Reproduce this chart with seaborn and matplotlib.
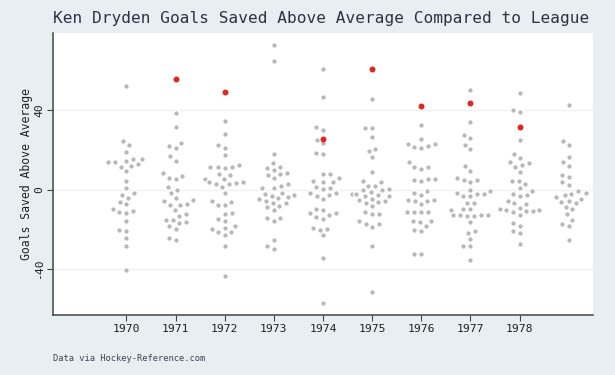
import pandas as pd
import matplotlib
matplotlib.use("Agg")
import matplotlib.pyplot as plt
import seaborn as sns

# Goals saved above average for every league goalie, per season
seasons = ['1970', '1971', '1972', '1973', '1974', '1975', '1976', '1977', '1978', '1979']
tick_labels = ['1970', '1971', '1972', '1973', '1974', '1975', '1976', '1977', '1978']

gsaa_1970 = [52.2, 24.3, 22.3, 19.1, 14.4, 15.4, 15.2, 13.7, 11.9, 13.6, 12.7, 11.4, 9.2, 4.5, 0.8,
             -3.0, -4.2, -2.0, -6.5, -7.5, -10.0, -11.0, -11.4, -11.9, -15.7, -20.8, -20.4, -24.3,
             -28.6, -40.5]
gsaa_1971 = [38.7, 31.3, 21.9, 23.3, 21.1, 16.6, 14.4, 8.2, 6.0, 5.4, 7.0, 1.5, -0.2, -1.7, -5.4,
             -7.7, -7.4, -4.2, -7.7, -6.0, -10.2, -12.2, -13.1, -15.1, -16.2, -16.7, -15.1, -18.2,
             -19.6, -24.3, -25.6]
gsaa_1972 = [34.6, 27.8, 21.1, 22.6, 17.2, 12.1, 10.9, 11.4, 11.4, 11.4, 7.2, 7.7, 5.2, 3.0, 1.5,
             3.8, 5.2, 3.2, 2.7, 3.8, -1.7, -5.7, -7.9, -7.9, -6.2, -11.9, -12.1, -14.6, -15.7,
             -18.4, -19.2, -21.4, -19.9, -21.4, -22.8, -28.5, -43.5]
gsaa_1973 = [72.5, 64.4, 17.7, 13.1, 11.5, 11.0, 9.7, 7.7, 7.5, 8.4, 5.9, 2.7, 2.0, 1.0, 1.0,
             -1.5, -3.0, -2.2, -3.7, -4.5, -5.7, -4.9, -7.0, -8.2, -6.7, -9.0, -10.5, -15.7,
             -14.2, -14.4, -25.3, -28.5, -30.0, -3.2]
gsaa_1974 = [60.4, 46.5, 30.1, 31.3, 24.9, 23.4, 17.7, 18.2, 7.7, 5.9, 8.0, 4.4, 3.8, 3.8, 0.7,
             1.5, 0.3, -1.8, -2.0, -2.7, -3.2, -4.7, -10.4, -11.9, -9.7, -11.9, -13.7, -12.7,
             -14.7, -20.1, -19.1, -19.7, -23.1, -34.3, -57.2]
gsaa_1975 = [45.5, 31.0, 31.0, 26.3, 20.6, 19.2, 16.2, 8.9, 4.2, 3.8, 0.3, 2.0, 1.7, -0.2, -3.5,
             -2.2, -2.7, -0.3, -3.3, -1.2, -2.5, -4.7, -6.4, -5.4, -6.0, -7.0, -8.4, -11.2,
             -12.2, -12.2, -15.6, -17.2, -17.2, -18.7, -28.5, -51.7]
gsaa_1976 = [32.5, 25.6, 23.1, 23.1, 21.4, 20.9, 21.8, 13.7, 11.2, 10.5, 11.4, 5.4, 4.9, 4.2, 5.2,
             -0.8, -2.8, -1.8, -5.4, -5.7, -5.4, -7.5, -5.7, -11.2, -11.2, -11.4, -11.2, -15.6,
             -16.1, -15.6, -20.3, -18.2, -20.8, -32.3, -32.5]
gsaa_1977 = [49.9, 33.8, 25.9, 27.6, 22.3, 20.3, 9.4, 11.7, 4.9, 3.8, 5.9, 4.7, -0.7, 0.0, -3.2,
             -2.3, -2.5, -3.5, -1.8, -6.9, -6.9, -9.9, -10.4, -9.9, -13.1, -12.7, -12.9, -13.2,
             -12.6, -12.7, -16.2, -20.9, -21.6, -24.8, -28.6, -28.3, -35.6]
gsaa_1978 = [48.5, 38.8, 40.0, 24.9, 17.9, 15.6, 11.4, 13.1, 12.4, 13.9, 8.7, 4.4, 4.2, 2.7, 0.7,
             -0.7, -2.8, -2.5, -3.2, -7.5, -5.7, -6.9, -11.5, -10.4, -11.0, -12.7, -11.0, -10.0,
             -10.4, -9.2, -18.2, -16.7, -21.9, -20.6, -27.3]
gsaa_1979 = [42.5, 24.6, 22.6, 16.4, 13.9, 11.9, 6.4, 7.4, 2.5, 3.7, -0.8, -2.0, -3.0, -2.5, -3.8,
             -4.7, -5.7, -6.2, -6.9, -8.7, -9.9, -12.4, -15.1, -17.1, -18.2, -25.6]

# Ken Dryden's own seasons
dryden_seasons = ['1971', '1972', '1974', '1975', '1976', '1977', '1978']
dryden_gsaa = [55.4, 48.9, 25.3, 60.4, 42.0, 43.3, 31.5]

league = pd.concat([
    pd.DataFrame({'season': s, 'gsaa': v})
    for s, v in zip(seasons, [gsaa_1970, gsaa_1971, gsaa_1972, gsaa_1973, gsaa_1974,
                              gsaa_1975, gsaa_1976, gsaa_1977, gsaa_1978, gsaa_1979])
])
dryden = pd.DataFrame({'season': dryden_seasons, 'gsaa': dryden_gsaa})

bg = '#e8eff2'
sns.set_style('white')
plt.rcParams['font.family'] = ['DejaVu Sans Mono']

fig = plt.figure(figsize=(6.15, 3.75), dpi=100, facecolor=bg)
ax = fig.add_axes([0.0857, 0.1587, 0.879, 0.7541])
ax.set_facecolor('white')

# white edge keeps the swarm spaced out like the original
sns.swarmplot(data=league, x='season', y='gsaa', order=seasons, color='#b8b8b8',
              size=4.0, edgecolor='white', linewidth=0.9, ax=ax, zorder=2)
sns.stripplot(data=dryden, x='season', y='gsaa', order=seasons, color='#e0271d',
              jitter=False, size=4.3, ax=ax, zorder=3)

ax.set_xlim(-1.5, 9.5)
ax.set_ylim(-63.3, 78.8)
ax.set_xticks(range(len(tick_labels)))
ax.set_xticklabels(tick_labels, fontsize=8.2, color='#222222')
ax.set_yticks([-40, 0, 40])
ax.set_yticklabels(['-40', '0', '40'], rotation=90, va='center', fontsize=8.2, color='#222222')
ax.tick_params(axis='both', length=4, width=0.8, color='#444444', pad=2, bottom=True, left=True)
ax.yaxis.grid(True, color='#edf1f3', linewidth=1)
ax.set_axisbelow(True)

for side in ['top', 'right']:
    ax.spines[side].set_visible(False)
for side in ['left', 'bottom']:
    ax.spines[side].set_color('#444444')
    ax.spines[side].set_linewidth(1.1)

ax.set_xlabel('')
ax.set_ylabel('Goals Saved Above Average', fontsize=8.3, color='#222222', labelpad=1)
fig.text(0.0857, 0.952, 'Ken Dryden Goals Saved Above Average Compared to League',
         fontsize=11.6, color='#2b3444', ha='left', va='center')
fig.text(0.0857, 0.045, 'Data via Hockey-Reference.com', fontsize=6.3, color='#3a4454',
         ha='left', va='center')

fig.savefig('out.png', dpi=100, facecolor=bg)
